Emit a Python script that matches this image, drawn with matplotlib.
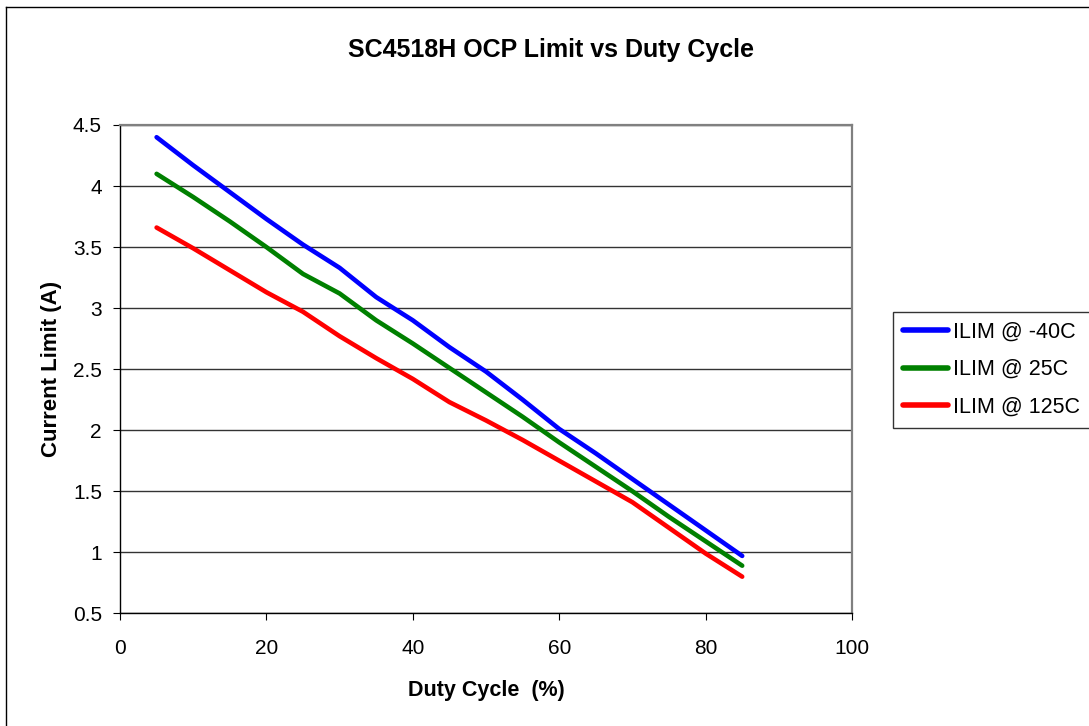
import matplotlib
matplotlib.use("Agg")
import matplotlib.pyplot as plt
from matplotlib.lines import Line2D

plt.rcParams['font.family'] = ['Liberation Sans', 'DejaVu Sans']

duty = [5, 10, 15, 20, 25, 30, 35, 40, 45, 50, 55, 60, 65, 70, 75, 80, 85]
ilim_m40 = [4.40, 4.17, 3.95, 3.73, 3.52, 3.33, 3.09, 2.90, 2.68, 2.48, 2.25, 2.01, 1.81, 1.60, 1.39, 1.18, 0.97]
ilim_25 = [4.10, 3.91, 3.71, 3.50, 3.28, 3.12, 2.90, 2.71, 2.51, 2.31, 2.11, 1.90, 1.70, 1.50, 1.29, 1.09, 0.89]
ilim_125 = [3.66, 3.49, 3.31, 3.13, 2.97, 2.77, 2.59, 2.42, 2.23, 2.08, 1.92, 1.75, 1.58, 1.41, 1.20, 0.99, 0.80]
labels = ['ILIM @ -40C', 'ILIM @ 25C', 'ILIM @ 125C']
colors = ['#0000ff', '#008000', '#ff0000']

W, H = 1089, 726
fig = plt.figure(figsize=(W / 100, H / 100), dpi=100)
# outer frame (left and top edges visible)
fig.add_artist(Line2D([5.5 / W, 5.5 / W], [0, 1 - 7 / H], transform=fig.transFigure, color='black', linewidth=1.0))
fig.add_artist(Line2D([5.5 / W, 1], [1 - 7 / H, 1 - 7 / H], transform=fig.transFigure, color='black', linewidth=1.0))

left, right, top, bottom = 120, 852, 125, 613.3
ax = fig.add_axes([left / W, 1 - bottom / H, (right - left) / W, (bottom - top) / H])

for ys, c, lab in zip([ilim_m40, ilim_25, ilim_125], colors, labels):
    ax.plot(duty, ys, color=c, linewidth=3.3, label=lab, solid_capstyle='round')

ax.set_xlim(0, 100)
ax.set_ylim(0.5, 4.5)
ax.set_xticks([0, 20, 40, 60, 80, 100])
ax.set_yticks([0.5, 1, 1.5, 2, 2.5, 3, 3.5, 4, 4.5])
ax.set_yticklabels(['0.5', '1', '1.5', '2', '2.5', '3', '3.5', '4', '4.5'])
ax.yaxis.grid(True, color='#333333', linewidth=1.0)
ax.set_axisbelow(True)
for s in ['top', 'right']:
    ax.spines[s].set_color('#808080')
    ax.spines[s].set_linewidth(1.6)
for s in ['left', 'bottom']:
    ax.spines[s].set_color('black')
    ax.spines[s].set_linewidth(1.0)
ax.tick_params(axis='both', labelsize=15, length=5, direction='out', color='black')
ax.tick_params(axis='x', pad=13.5)
ax.tick_params(axis='y', pad=8)

fig.text(551 / W, 1 - 56.7 / H, 'SC4518H OCP Limit vs Duty Cycle', fontsize=18, fontweight='bold',
         ha='center', va='baseline')
fig.text(486 / W, 1 - 696 / H, 'Duty Cycle  (%)', fontsize=15.5, fontweight='bold',
         ha='center', va='baseline')
fig.text(57 / W, 1 - 369 / H, 'Current Limit (A)', fontsize=16, fontweight='bold',
         ha='center', va='baseline', rotation=90, rotation_mode='anchor')

leg = ax.legend(loc='upper left', bbox_to_anchor=(893 / W, 1 - 311.7 / H), bbox_transform=fig.transFigure,
                fontsize=15.5, frameon=True, fancybox=False, edgecolor='black',
                handlelength=2.1, handletextpad=0.24, borderpad=0.45, labelspacing=0.78,
                borderaxespad=0)
leg.get_frame().set_linewidth(1.0)
for h in leg.get_lines():
    h.set_linewidth(4.0)

fig.savefig('out.png', dpi=100)
